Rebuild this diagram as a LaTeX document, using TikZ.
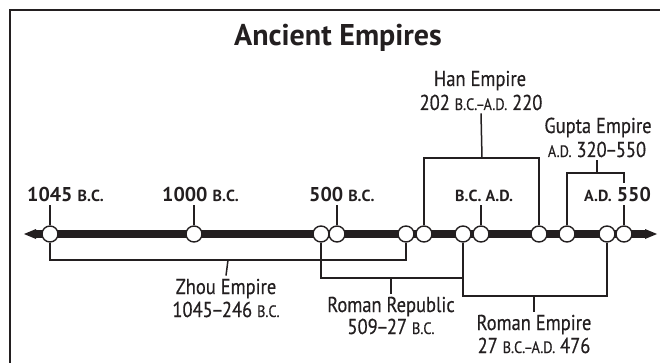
\documentclass[tikz,border=0pt]{standalone}
\usepackage{fontspec}
\setmainfont{PT Sans}
\newfontfamily\condfont[FakeStretch=0.86,FakeBold=0.4]{PT Sans}
\definecolor{ink}{HTML}{231F20}
\newcommand\smy[1]{{\fontsize{16}{16}\selectfont #1}}
\newcommand\sme[1]{{\fontsize{16.5}{16.5}\selectfont #1}}
\newcommand\dd{\kern-1.5pt–\kern-1.5pt}
\begin{document}
\begin{tikzpicture}[x=1pt,y=-1pt,color=ink,
  dot/.style={circle,draw=ink,fill=white,line width=1.4pt,minimum size=16pt,inner sep=0pt},
  yr/.style={font=\bfseries\fontsize{20}{20}\selectfont,anchor=base west,inner xsep=0pt,inner ysep=4pt},
  emp/.style={font=\condfont\fontsize{21.5}{21.5}\selectfont,anchor=base,inner xsep=0pt,inner ysep=3pt},
  br/.style={draw=ink,line width=1.5pt},
  tick/.style={draw=ink,line width=1.5pt}]
\useasboundingbox (0,0) rectangle (660,363);
% frame (top and left only)
\draw[line width=2.2pt,line cap=rect] (10,363) -- (10,10) -- (660,10);
% title
\node[font=\bfseries\fontsize{30}{30}\selectfont,anchor=base,inner sep=0pt] (title) at (338,46) {Ancient Empires};
% timeline bar with arrow tips
\coordinate (tl) at (24,234);
\coordinate (tr) at (657,234);
\draw[line width=8pt] (34,234) -- (647,234);
\fill (tl) -- ++(12,-5) -- ++(0,10) -- cycle;
\fill (tr) -- ++(-12,-5) -- ++(0,10) -- cycle;
% year labels
\node[yr] (l1045) at (27,201) {1045 \smy{B.C.}};
\node[yr] (l1000) at (162,201) {1000 \smy{B.C.}};
\node[yr] (l500) at (309,201) {500 \smy{B.C.}};
\node[yr] (lbcad) at (455,201) {\smy{B.C. A.D.}};
\node[yr] (l550) at (584,201) {\smy{A.D.} 550};
% empire labels
\node[emp] (zhou1) at (226,294) {Zhou Empire};
\node[emp] (zhou2) at (226,317) {1045\dd246 \sme{B.C.}};
\node[emp] (rr1) at (391,312) {Roman Republic};
\node[emp] (rr2) at (391,334) {509\dd27 \sme{B.C.}};
\node[emp] (re1) at (534,330) {Roman Empire};
\node[emp] (re2) at (534,353) {27 \sme{B.C.\dd A.D.} 476};
\node[emp] (han1) at (480,86) {Han Empire};
\node[emp] (han2) at (481,110) {202 \sme{B.C.\dd A.D.} 220};
\node[emp] (gup1) at (598,133) {Gupta Empire};
\node[emp] (gup2) at (597,157) {\sme{A.D.} 320\dd550};
% bracket coordinates
\coordinate (zb) at (228,260);
\coordinate (rb) at (391,278);
\coordinate (eb) at (534,296);
\coordinate (hb) at (482,158);
\coordinate (gb) at (597,173);
% circles
\foreach \n/\x in {c1/50,c2/194,c3/321,c4/337,c5/406,c6/424,c7/463,c8/481,c9/539,c10/567,c11/607,c12/624}
  \node[dot] (\n) at (\x,234) {};
% brackets
\draw[br] (c1.south) |- (zb) -| (c5.south);
\draw[br] (c3.south) |- (rb) -| (c7.south);
\draw[br] (c7.south) |- (eb) -| (c11.south);
\draw[br] (c6.north) |- (hb) -| (c9.north);
\draw[br] (c10.north) |- (gb) -| (c12 |- l550.north);
% ticks from labels
\draw[tick] (c1 |- l1045.south) -- (c1.north);
\draw[tick] (c2 |- l1000.south) -- (c2.north);
\draw[tick] (c4 |- l500.south) -- (c4.north);
\draw[tick] (c8 |- lbcad.south) -- (c8.north);
\draw[tick] (c12 |- l550.south) -- (c12.north);
% stems
\draw[br] (zb) -- (zhou1.north);
\draw[br] (rb) -- (rr1.north);
\draw[br] (eb) -- (re1.north);
\draw[br] (hb) -- (han2.south);
\draw[br] (gb) -- (gup2.south);
\end{tikzpicture}
\end{document}
